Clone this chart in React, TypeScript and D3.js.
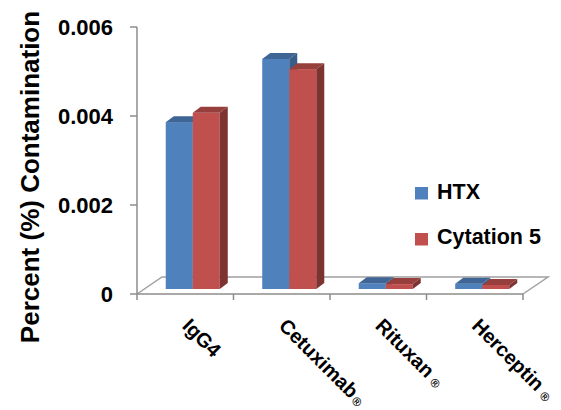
import React from 'react';
import * as d3 from 'd3';

const categories = ['IgG4', 'Cetuximab', 'Rituxan', 'Herceptin'];
const registered = [false, true, true, true];
const seriesNames = ['HTX', 'Cytation 5'];
const htxValues = [0.00375, 0.00517, 0.00013, 0.00012];
const cytationValues = [0.00396, 0.00494, 0.00011, 0.00009];
const yTicks = [0, 0.002, 0.004, 0.006];

const seriesValues = [htxValues, cytationValues];
const frontColors = ['#4F81BD', '#C0504D'];
const topColors = ['#3E6594', '#963F3C'];
const sideColors = ['#385D8A', '#7D3331'];

const W = 561;
const H = 410;
const FONT = '"Liberation Sans", Arial, sans-serif';

export default function App() {
  const y = d3.scaleLinear().domain([0, 0.006]).range([294, 27]);
  const x = d3.scaleBand<string>().domain(categories).range([137, 523]).padding(0);
  const bw = x.bandwidth();
  const inner = d3.scaleBand<string>().domain(seriesNames).range([0.22 * bw, 0.78 * bw]).padding(0);
  const w = inner.bandwidth();

  // floor depth
  const floorDx = 25, floorDy = -17;
  // bar front plane offset and bar depth
  const dxF = 7.5, dyF = -5;
  const ddx = 8, ddy = -6;

  const x0Floor = x.range()[0];
  const x1Floor = x.range()[1];
  const y0 = y(0);

  const fmt = (v: number) => (v === 0 ? '0' : d3.format('.3f')(v));

  const bars: React.ReactNode[] = [];
  categories.forEach((c, ci) => {
    seriesNames.forEach((s, si) => {
      const v = seriesValues[si][ci];
      const bx = (x(c) as number) + (inner(s) as number) + dxF;
      const yt = y(v) + dyF;
      const yb = y(0) + dyF;
      bars.push(
        <g key={c + s}>
          <rect x={bx} y={yt} width={w} height={yb - yt} fill={frontColors[si]} />
          <polygon
            points={`${bx},${yt} ${bx + w},${yt} ${bx + w + ddx},${yt + ddy} ${bx + ddx},${yt + ddy}`}
            fill={topColors[si]}
          />
          <polygon
            points={`${bx + w},${yt} ${bx + w + ddx},${yt + ddy} ${bx + w + ddx},${yb + ddy} ${bx + w},${yb}`}
            fill={sideColors[si]}
          />
        </g>
      );
    });
  });

  return (
    <div style={{ position: 'absolute', left: 0, top: 0 }}>
      <svg width={W} height={H} style={{ display: 'block', background: '#fff' }}>
        {/* floor */}
        <g stroke="#A0A0A0" strokeWidth={1.5} fill="none">
          <polyline
            points={`${x0Floor},${y0} ${x0Floor + floorDx},${y0 + floorDy} ${x1Floor + floorDx},${y0 + floorDy} ${x1Floor},${y0}`}
          />
        </g>
        {bars}
        {/* front floor line + category ticks */}
        <g stroke="#8C8C8C" strokeWidth={1.5}>
          <line x1={x0Floor} x2={x1Floor} y1={y0} y2={y0} />
          {categories.map((c) => {
            const tx = (x(c) as number) + bw;
            return <line key={c} x1={tx} x2={tx} y1={y0} y2={y0 + 6} />;
          })}
          {/* y axis */}
          <line x1={x0Floor} x2={x0Floor} y1={y(0.006)} y2={y0 + 6} />
          {yTicks.map((t) => (
            <line key={t} x1={x0Floor - 7} x2={x0Floor} y1={y(t)} y2={y(t)} />
          ))}
        </g>
        {/* y tick labels */}
        <g fontFamily={FONT} fontWeight="bold" fontSize={22} fill="#000" textAnchor="end">
          {yTicks.map((t) => (
            <text key={t} x={113} y={y(t) + 8}>
              {fmt(t)}
            </text>
          ))}
        </g>
        {/* y title */}
        <text
          transform="translate(39,177) rotate(-90)"
          textAnchor="middle"
          fontFamily={FONT}
          fontWeight="bold"
          fontSize={26}
          fill="#000"
        >
          Percent (%) Contamination
        </text>
        {/* category labels */}
        <g fontFamily={FONT} fontWeight="bold" fontSize={20} fill="#000">
          {categories.map((c, ci) => {
            const cx = (x(c) as number) + bw / 2;
            return (
              <text key={c} transform={`translate(${cx - 4},327) rotate(45)`}>
                {c}
                {registered[ci] ? (
                  <tspan fontSize={12} dx={ci === 1 ? 2 : 5} dy={1}>
                    ®
                  </tspan>
                ) : null}
              </text>
            );
          })}
        </g>
        {/* legend */}
        <g fontFamily={FONT} fontWeight="bold" fontSize={21.5} fill="#000">
          {seriesNames.map((s, si) => (
            <g key={s}>
              <rect x={415} y={187 + si * 46} width={13} height={12.5} fill={frontColors[si]} />
              <text x={437} y={199 + si * 45}>
                {s}
              </text>
            </g>
          ))}
        </g>
      </svg>
    </div>
  );
}
